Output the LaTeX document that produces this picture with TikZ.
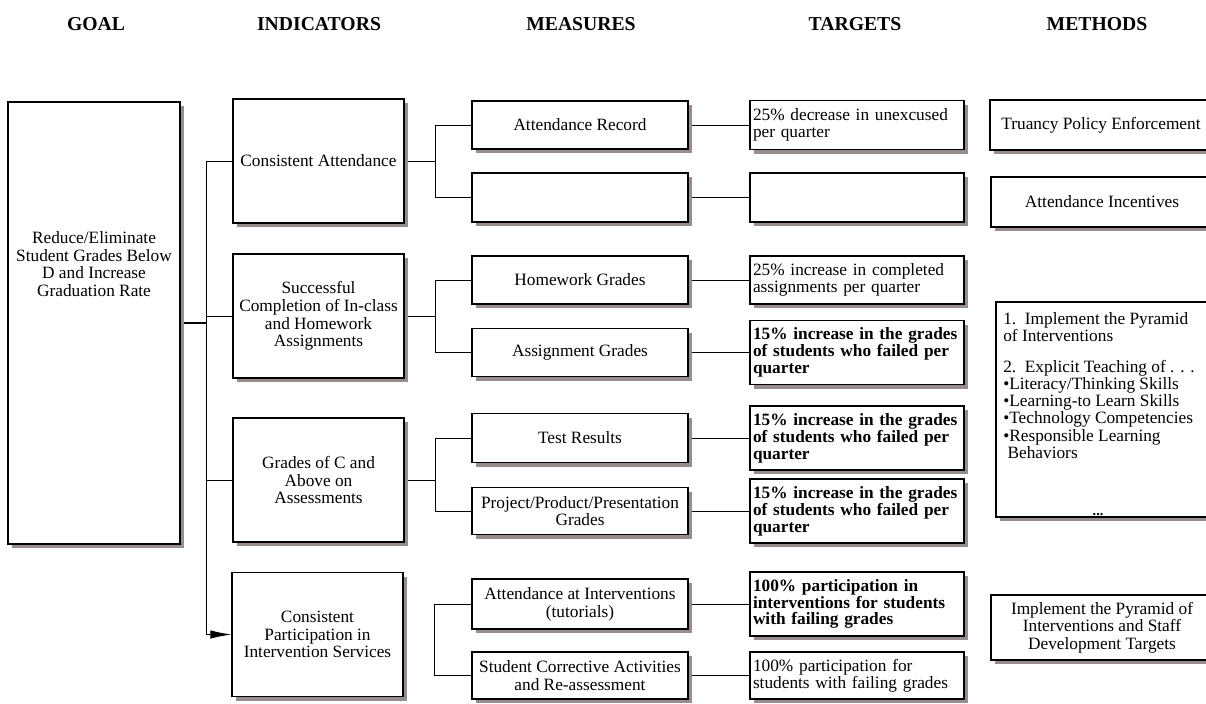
\documentclass[tikz,border=0pt]{standalone}
\usepackage{fontspec}
\setmainfont{Liberation Serif}
\usetikzlibrary{arrows.meta, shadows}
\definecolor{shadowgray}{RGB}{151,141,141}
\pgfdeclarelayer{background}
\pgfsetlayers{background,main}

\begin{document}
\begin{tikzpicture}[
  txt/.style={font=\fontsize{12.3}{12.6}\selectfont, align=center},
  box/.style={txt, draw, line width=0.9pt, fill=white, inner sep=0pt,
    drop shadow={shadow xshift=0.11cm, shadow yshift=-0.1cm, fill=shadowgray, opacity=1}},
  ind/.style={box, minimum width=4.275cm, minimum height=3.1cm},
  meas/.style={box, minimum width=5.4cm, minimum height=1.2cm},
  targ/.style={box, text width=5.2cm, inner xsep=0.075cm, minimum height=1.2cm,
    align=left, font=\fontsize{12.3}{12}\selectfont},
  targbold/.style={targ, font=\fontsize{12.3}{12}\selectfont\bfseries},
  meth/.style={box, minimum width=5.55cm, minimum height=1.25cm},
  head/.style={font=\fontsize{14}{16}\selectfont\bfseries},
  conn/.style={line width=0.7pt}
]
  \useasboundingbox (0, 0) rectangle (30.15, -17.6);

  % Column headings
  \node[head] (hgoal) at (2.4, -0.6) {GOAL};
  \node[head] (hind) at (7.975, -0.6) {INDICATORS};
  \node[head] (hmeas) at (14.525, -0.6) {MEASURES};
  \node[head] (htarg) at (21.375, -0.6) {TARGETS};
  \node[head] (hmeth) at (27.425, -0.6) {METHODS};

  % Goal
  \node[box, minimum width=4.3cm, minimum height=11.05cm] (goal) at (2.35, -8.075) {};
  \node[txt] (goaltext) at (2.35, -6.6) {Reduce/Eliminate\\Student Grades Below\\D and Increase\\Graduation Rate};

  % Indicators
  \node[ind] (i1) at (7.9625, -4.025) {Consistent Attendance};
  \node[ind] (i2) at (7.9625, -7.9) {Successful\\Completion of In-class\\and Homework\\Assignments};
  \node[ind] (i3) at (7.9625, -12.0) {Grades of C and\\Above on\\Assessments};
  \node[ind] (i4) at (7.9375, -15.8625) {Consistent\\Participation in\\Intervention Services};

  % Measures
  \node[meas] (m1) at (14.5, -3.125) {Attendance Record};
  \node[meas, minimum height=1.225cm] (m2) at (14.5, -4.9375) {};
  \node[meas] (m3) at (14.5, -7.0) {Homework Grades};
  \node[meas] (m4) at (14.5, -8.8125) {Assignment Grades};
  \node[meas, minimum height=1.225cm] (m5) at (14.5, -10.95) {Test Results};
  \node[meas, minimum height=1.175cm] (m6) at (14.5, -12.775) {Project/Product/Presentation\\Grades};
  \node[meas, minimum height=1.25cm] (m7) at (14.5, -15.1) {Attendance at Interventions\\(tutorials)};
  \node[meas, minimum height=1.175cm] (m8) at (14.5, -16.8875) {Student Corrective Activities\\and Re-assessment};

  % Targets
  \node[targ, minimum height=1.225cm] (t1) at (21.425, -3.125) {25\% decrease in unexcused\\per quarter};
  \node[targ, minimum height=1.225cm] (t2) at (21.425, -4.9375) {};
  \node[targ] (t3) at (21.425, -7.0) {25\% increase in completed\\assignments per quarter};
  \node[targbold, minimum height=1.6cm] (t4) at (21.425, -8.8125) {15\% increase in the grades\\of students who failed per\\quarter};
  \node[targbold, minimum height=1.6cm] (t5) at (21.425, -10.95) {15\% increase in the grades\\of students who failed per\\quarter};
  \node[targbold, minimum height=1.6cm] (t6) at (21.425, -12.775) {15\% increase in the grades\\of students who failed per\\quarter};
  \node[targbold, minimum height=1.6cm] (t7) at (21.425, -15.1) {100\% participation in\\interventions for students\\with failing grades};
  \node[targ, minimum height=1.175cm] (t8) at (21.425, -16.8875) {100\% participation for\\students with failing grades};

  % Methods
  \node[meth] (me1) at (27.525, -3.125) {Truancy Policy Enforcement};
  \node[meth] (me2) at (27.55, -5.05) {Attendance Incentives};
  \node[box, minimum width=5.4cm, minimum height=5.375cm] (me3) at (27.6, -10.2375) {};
  \node[txt, align=left, anchor=north west, inner sep=0pt, font=\fontsize{12.3}{11}\selectfont] (me3text) at (25.075, -7.8)
    {1.\ \ Implement the Pyramid\\of Interventions\\[11pt]2.\ \ Explicit Teaching of . . .\\•Literacy/Thinking Skills\\•Learning-to Learn Skills\\•Technology Competencies\\•Responsible Learning\\\hspace*{0.25em}Behaviors};
  \node[font=\bfseries, inner sep=0pt] (me3dots) at (27.45, -12.87) {...};
  \node[meth, minimum height=1.625cm] (me4) at (27.55, -15.6875) {Implement the Pyramid of\\Interventions and Staff\\Development Targets};

  \begin{pgfonlayer}{background}
    % goal to indicators
    \coordinate (s0) at (5.15, -8.075);
    \draw[line width=1.4pt] (goal.east) -- (s0);
    \draw[conn] (i1.west) -| (s0);
    \draw[conn] (i2.west) -| (s0);
    \draw[conn] (i3.west) -| (s0);
    \draw[conn, -{Latex[length=15pt, width=6pt]}] (s0) |- (i4.west);

    % indicators to measures
    \coordinate (b1) at (10.875, -4.025);
    \coordinate (b2) at (10.875, -7.9);
    \coordinate (b3) at (10.875, -12.0);
    \coordinate (b4) at (10.85, -16.0);
    \draw[conn] (i1.east) -- (b1);
    \draw[conn] (m1.west) -| (b1);
    \draw[conn] (m2.west) -| (b1);
    \draw[conn] (i2.east) -- (b2);
    \draw[conn] (m3.west) -| (b2);
    \draw[conn] (m4.west) -| (b2);
    \draw[conn] (i3.east) -- (b3);
    \draw[conn] (m5.west) -| (b3);
    \draw[conn] (m6.west) -| (b3);
    \draw[conn] (m7.west) -| (b4);
    \draw[conn] (m8.west) -| (b4);

    % measures to targets
    \draw[conn] (m1) -- (t1);
    \draw[conn] (m2) -- (t2);
    \draw[conn] (m3) -- (t3);
    \draw[conn] (m4) -- (t4);
    \draw[conn] (m5) -- (t5);
    \draw[conn] (m6) -- (t6);
    \draw[conn] (m7) -- (t7);
    \draw[conn] (m8) -- (t8);
  \end{pgfonlayer}

\end{tikzpicture}
\end{document}
